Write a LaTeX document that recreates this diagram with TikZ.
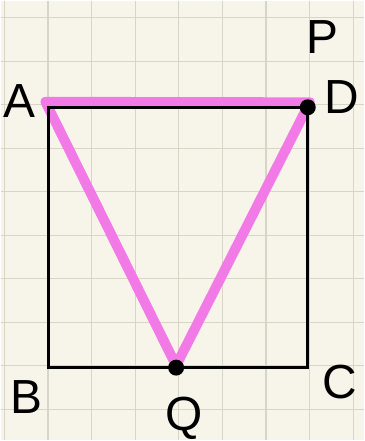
\documentclass[tikz,border=0pt]{standalone}
\usepackage{fontspec}
\setmainfont{Liberation Sans}
\usepackage{xcolor}
\usetikzlibrary{positioning}

\definecolor{paper}{HTML}{F7F5EA}
\definecolor{gridgray}{HTML}{D8D5C6}
\definecolor{marker}{HTML}{F27AE6}

\tikzset{
  gridline/.style={gridgray, line width=1.2pt},
  side/.style={black, line width=3pt},
  highlight/.style={marker, line width=10pt, line cap=round, line join=round},
  pointdot/.style={circle, fill=black, inner sep=0pt, minimum size=16pt},
  letter/.style={font=\fontsize{48}{48}\selectfont, inner sep=0pt}
}

\begin{document}
\begin{tikzpicture}[x=1pt, y=-1pt]
        % paper with grid
        \fill[paper] (0,0) rectangle (364,441);
        \foreach \i in {0,...,8}
          \draw[gridline] (3.7+43.75*\i,0) -- ++(0,441);
        \foreach \j in {0,...,9}
          \draw[gridline] (0,17.3+43.6*\j) -- ++(364,0);
        \useasboundingbox (0,0) rectangle (364,441);

        % corners of the square
        \coordinate (A) at (47.7,107);
        \coordinate (B) at (47.7,368);
        \coordinate (C) at (308,368);
        \coordinate (D) at (308,107);
        \coordinate (Q) at (176,368);
        \coordinate (hA) at (45,101.5);
        \coordinate (hD) at (310,102);
        \coordinate (hQ) at (176,366);

        % highlighted triangle
        \draw[highlight] (hA) -- (hD) -- (hQ) -- cycle;

        \draw[side] (A) -- (B) -- (C) -- (D) -- cycle;

        \node[pointdot] (dotD) at (D) {};
        \node[pointdot] (dotQ) at (Q) {};

        % labels
        \node[letter] (labA) at (19,101) {A};
        \node[letter] (labB) at (26,398) {B};
        \node[letter] (labC) at (340,382) {C};
        \node[letter] (labD) at (342,97) {D};
        \node[letter] (labP) at (323,37) {P};
        \node[letter] (labQ) at (184,419) {Q};
\end{tikzpicture}
\end{document}
